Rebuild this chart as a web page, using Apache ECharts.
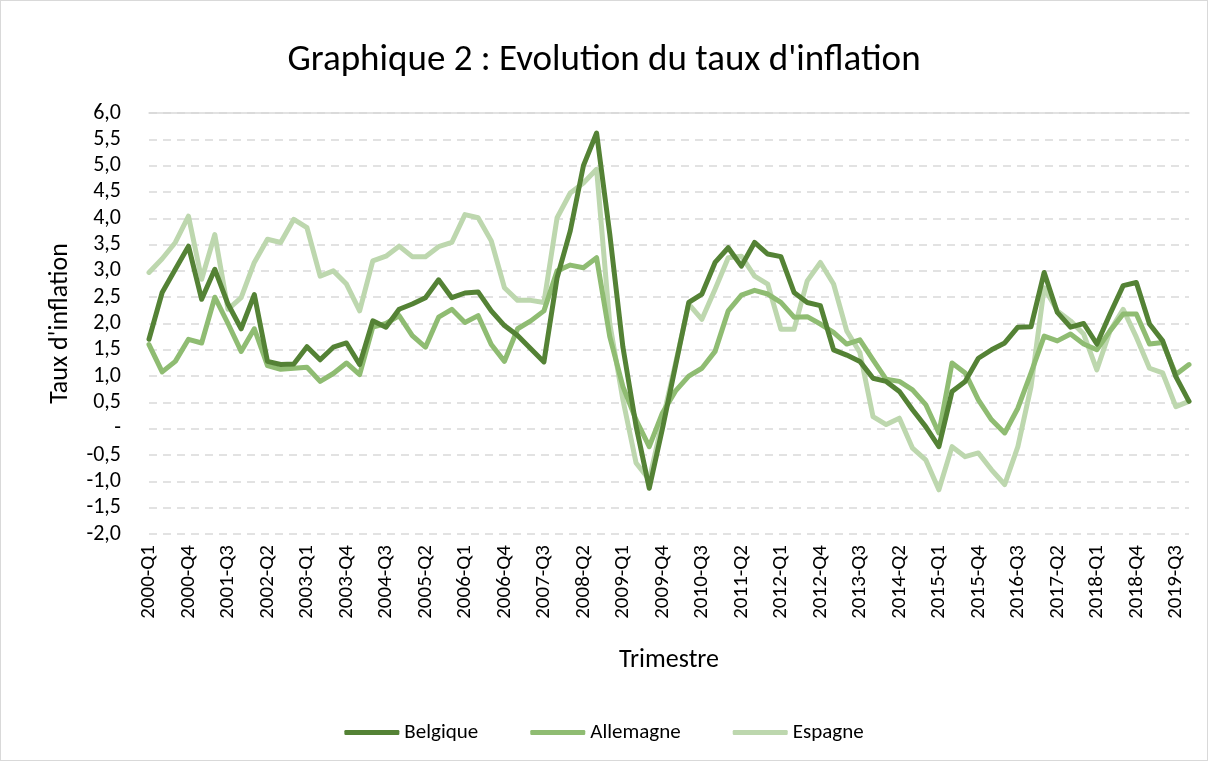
<!DOCTYPE html>
<html>
<head>
<meta charset="utf-8">
<script src="https://cdn.jsdelivr.net/npm/echarts@6/dist/echarts.min.js"></script>
<style>
  html, body { margin: 0; padding: 0; background: #fff; }
  #chart { width: 1208px; height: 761px; box-sizing: border-box; border: 1px solid #d9d9d9; }
</style>
</head>
<body>
<div id="chart"></div>
<script>
// trimestres 2000-Q1 .. 2019-Q4
var quarters = [];
for (var y = 2000; y <= 2019; y++) {
    for (var q = 1; q <= 4; q++) quarters.push(y + '-Q' + q);
}

var belgique = [
    1.70, 2.59, 3.03, 3.47, 2.46, 3.03, 2.37, 1.90, 2.55, 1.28,
    1.22, 1.23, 1.56, 1.31, 1.55, 1.63, 1.22, 2.05, 1.93, 2.27,
    2.37, 2.49, 2.83, 2.49, 2.58, 2.60, 2.24, 1.96, 1.77, 1.52,
    1.27, 2.87, 3.76, 5.00, 5.62, 3.70, 1.55, 0.05, -1.13, 0.00,
    1.20, 2.40, 2.56, 3.16, 3.44, 3.09, 3.54, 3.32, 3.27, 2.59,
    2.40, 2.34, 1.50, 1.40, 1.28, 0.96, 0.90, 0.71, 0.36, 0.04,
    -0.34, 0.71, 0.90, 1.34, 1.50, 1.63, 1.93, 1.94, 2.97, 2.21,
    1.93, 2.00, 1.61, 2.18, 2.72, 2.78, 1.99, 1.67, 0.99, 0.52
];
var allemagne = [
    1.60, 1.08, 1.28, 1.70, 1.63, 2.50, 2.00, 1.47, 1.90, 1.20,
    1.13, 1.15, 1.17, 0.90, 1.05, 1.25, 1.03, 1.93, 2.00, 2.15,
    1.77, 1.55, 2.12, 2.27, 2.02, 2.15, 1.60, 1.28, 1.90, 2.05,
    2.24, 3.00, 3.11, 3.06, 3.25, 1.75, 0.80, 0.17, -0.34, 0.30,
    0.72, 1.00, 1.15, 1.47, 2.24, 2.54, 2.63, 2.56, 2.40, 2.12,
    2.13, 1.99, 1.83, 1.61, 1.69, 1.31, 0.94, 0.90, 0.74, 0.46,
    -0.08, 1.25, 1.06, 0.55, 0.17, -0.08, 0.39, 1.06, 1.76, 1.67,
    1.80, 1.61, 1.50, 1.86, 2.18, 2.18, 1.61, 1.64, 1.03, 1.22
];
var espagne = [
    2.97, 3.23, 3.54, 4.04, 2.84, 3.69, 2.27, 2.49, 3.16, 3.60,
    3.54, 3.98, 3.82, 2.90, 3.00, 2.75, 2.24, 3.19, 3.28, 3.47,
    3.27, 3.27, 3.46, 3.54, 4.07, 4.01, 3.57, 2.68, 2.44, 2.44,
    2.40, 4.01, 4.48, 4.67, 4.93, 2.00, 0.55, -0.65, -0.97, 0.15,
    1.25, 2.37, 2.08, 2.65, 3.25, 3.28, 2.90, 2.75, 1.89, 1.89,
    2.81, 3.16, 2.75, 1.86, 1.45, 0.23, 0.08, 0.20, -0.37, -0.59,
    -1.16, -0.34, -0.53, -0.46, -0.78, -1.06, -0.34, 0.80, 2.68, 2.24,
    2.05, 1.80, 1.12, 1.86, 2.27, 1.74, 1.15, 1.06, 0.42, 0.52
];

var seriesNames = ['Belgique', 'Allemagne', 'Espagne'];
var seriesColors = ['#548235', '#8fbc72', '#bdd7ae'];
var seriesData = [belgique, allemagne, espagne];

var font = 'Carlito, Calibri, "Open Sans", sans-serif';
var chart = echarts.init(document.getElementById('chart'), null, {renderer: 'canvas'});

var series = seriesNames.map(function (name, i) {
    return {
        name: name,
        type: 'line',
        data: seriesData[i],
        symbol: 'none',
        lineStyle: {width: 5, color: seriesColors[i], cap: 'round', join: 'round'},
        itemStyle: {color: seriesColors[i]},
        z: 3 - i
    };
});

chart.setOption({
    animation: false,
    title: {
        text: "Graphique 2 : Evolution du taux d'inflation",
        left: 'center',
        top: 36,
        textStyle: {fontFamily: font, fontSize: 37, fontWeight: 'normal', color: '#000'}
    },
    legend: {
        data: seriesNames,
        bottom: 12,
        left: 'center',
        icon: 'roundRect',
        itemWidth: 55,
        itemHeight: 5,
        itemGap: 52,
        textStyle: {fontFamily: font, fontSize: 21, color: '#000'}
    },
    grid: {left: 148, right: 18, top: 112, bottom: 226},
    xAxis: [{
        type: 'category',
        data: quarters,
        boundaryGap: false,
        name: 'Trimestre',
        nameLocation: 'middle',
        nameGap: 113,
        nameTextStyle: {fontFamily: font, fontSize: 26, color: '#000'},
        axisLine: {show: false},
        axisTick: {show: false},
        splitLine: {show: false},
        axisLabel: {
            interval: 2, rotate: 90, margin: 11,
            fontFamily: font, fontSize: 21, color: '#000'
        }
    }, {
        type: 'category',
        data: quarters,
        boundaryGap: false,
        position: 'top',
        axisLine: {show: true, onZero: true, lineStyle: {color: '#d9d9d9', width: 1.5}},
        axisTick: {show: false},
        axisLabel: {show: false},
        splitLine: {show: false}
    }],
    yAxis: {
        type: 'value',
        min: -2,
        max: 6,
        interval: 0.5,
        name: "Taux d'inflation",
        nameLocation: 'middle',
        nameGap: 76,
        nameTextStyle: {fontFamily: font, fontSize: 26, color: '#000'},
        axisLine: {show: false},
        axisTick: {show: false},
        axisLabel: {
            margin: 28,
            fontFamily: font, fontSize: 22, color: '#000',
            formatter: function (v) {
                if (v === 0) return '-';
                return v.toFixed(1).replace('.', ',');
            }
        },
        splitLine: {lineStyle: {color: '#d9d9d9', type: [8, 6], width: 1.5}}
    },
    series: series
});
</script>
</body>
</html>
